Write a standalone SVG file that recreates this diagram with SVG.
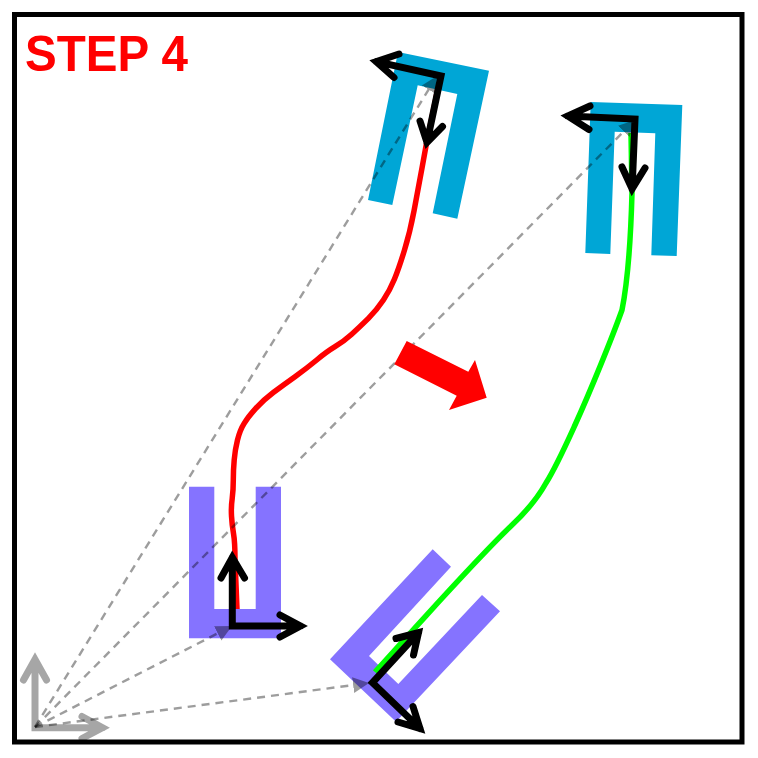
<svg xmlns="http://www.w3.org/2000/svg" width="758" height="758" viewBox="0 0 758 758">
<style>
.frame{fill:#fff;stroke:#000;stroke-width:5}
.blue{fill:#00a6d6}
.purple{fill:#8573ff}
.axis{fill:none;stroke:#000;stroke-width:7;stroke-linecap:round;stroke-linejoin:miter}
.gray{fill:none;stroke:#000;stroke-opacity:.35;stroke-width:7;stroke-linecap:round;stroke-linejoin:miter}
.dash{fill:none;stroke:#000;stroke-width:2.4;stroke-dasharray:8 6;opacity:.38;marker-end:url(#tri)}
.path{fill:none;stroke-width:5.5;stroke-linecap:butt;stroke-linejoin:round}
text{font-family:"Liberation Sans",Arial,sans-serif;font-weight:700;font-size:50px;fill:#f00}
</style>
<defs>
<marker id="tri" markerUnits="userSpaceOnUse" markerWidth="18" markerHeight="18" refX="16" refY="8" orient="auto" viewBox="0 0 18 16"><path d="M0 0L16 8L0 16Z" fill="#000"/></marker>
</defs>
<rect class="frame" x="14.5" y="14.5" width="727.5" height="727.5"/>
<text x="25" y="70.5" textLength="163" lengthAdjust="spacingAndGlyphs">STEP 4</text>
<g id="gripper-start-a"><path class="purple" d="M189 486.7H214.3V609H255.7V486.7H281V638.3H189Z"/></g>
<g id="gripper-start-b"><path class="purple" d="M432.7 549.3L451 566.7L369 656L398.3 684L482 595L500 611.3L396 721.7L330 659.3Z"/></g>
<g id="gripper-end-a"><path class="blue" d="M398 52L489 70.7L457.3 218.7L432.7 213.3L457.3 94L417.7 85.3L392.3 205L368 200Z"/></g>
<g id="gripper-end-b"><path class="blue" d="M590.7 102L682.3 105L676.7 256L651.3 255.3L655.3 133.3L614.7 131.7L610.3 254L585.3 253Z"/></g>
<g id="connectors">
<path class="path" stroke="#f00" d="M438 88L426 146L422 168Q418 190 414 211Q410 232 404.5 250Q399 268 394.5 279Q390 290 383.4 300Q376.7 310 368.4 318.4Q360 326.7 351.7 334.2Q343.3 341.7 335 346.7Q326.7 351.7 316.7 360Q306.7 368.3 295 376.7Q283.3 385 273.3 392.5Q263.3 400 255.8 408.4Q248.3 416.7 244.2 423.4Q240 430 237.5 440Q235 450 234.2 460Q233.3 470 233.3 480Q233.3 490 232.2 498.5Q231 507 231.5 516Q232 525 233.5 533.5Q235 542 235 560L237 609"/>
<path class="path" stroke="#0f0" d="M631 133L632 193C631 230 629 275 622 310C612 338 590 392 575 425C565 447 556 467 546 483C536 501 524 514 510 527C480 556 445 595 413 630L375 672"/>
<line class="dash" x1="35" y1="727" x2="437" y2="76"/>
<line class="dash" x1="35" y1="727" x2="635" y2="120"/>
<line class="dash" x1="35" y1="727" x2="232" y2="626"/>
<line class="dash" x1="35" y1="727" x2="369" y2="683"/>
</g>
<g id="big-arrow"><path fill="#f00" d="M406.7 341L468.3 371.7L475 360L486.7 397.7L449 410L456.7 395.7L394.3 364.3Z"/></g>
<g id="world-axes"><path class="gray" d="M35 659.5V727.7H102.5M23.5 680L35 659.5L46.5 680M82 716.5L102.5 727.7L82 738.5"/></g>
<g id="frame-a"><path class="axis" d="M232.3 557.5V626H300.5M221 578L232.3 557.5L244.5 578M280 615L300.5 626L280 637"/></g>
<g id="frame-b"><path class="axis" d="M418.5 632.6L372.5 682.7L420 728.6M396 638.5L418.5 632.6L413.5 655M398 722L420 728.6L413 706.5"/></g>
<g id="frame-c"><path class="axis" d="M376.2 61.6L441 76L427 142.4M399 54L376.2 61.6L394 77.5M420 121L427 142.4L442.5 126.5"/></g>
<g id="frame-d"><path class="axis" d="M567.8 116.1L635 119L632.1 188.8M590 106L567.8 116.1L589 129.5M622 167L632.1 188.8L645 168"/></g>
</svg>
